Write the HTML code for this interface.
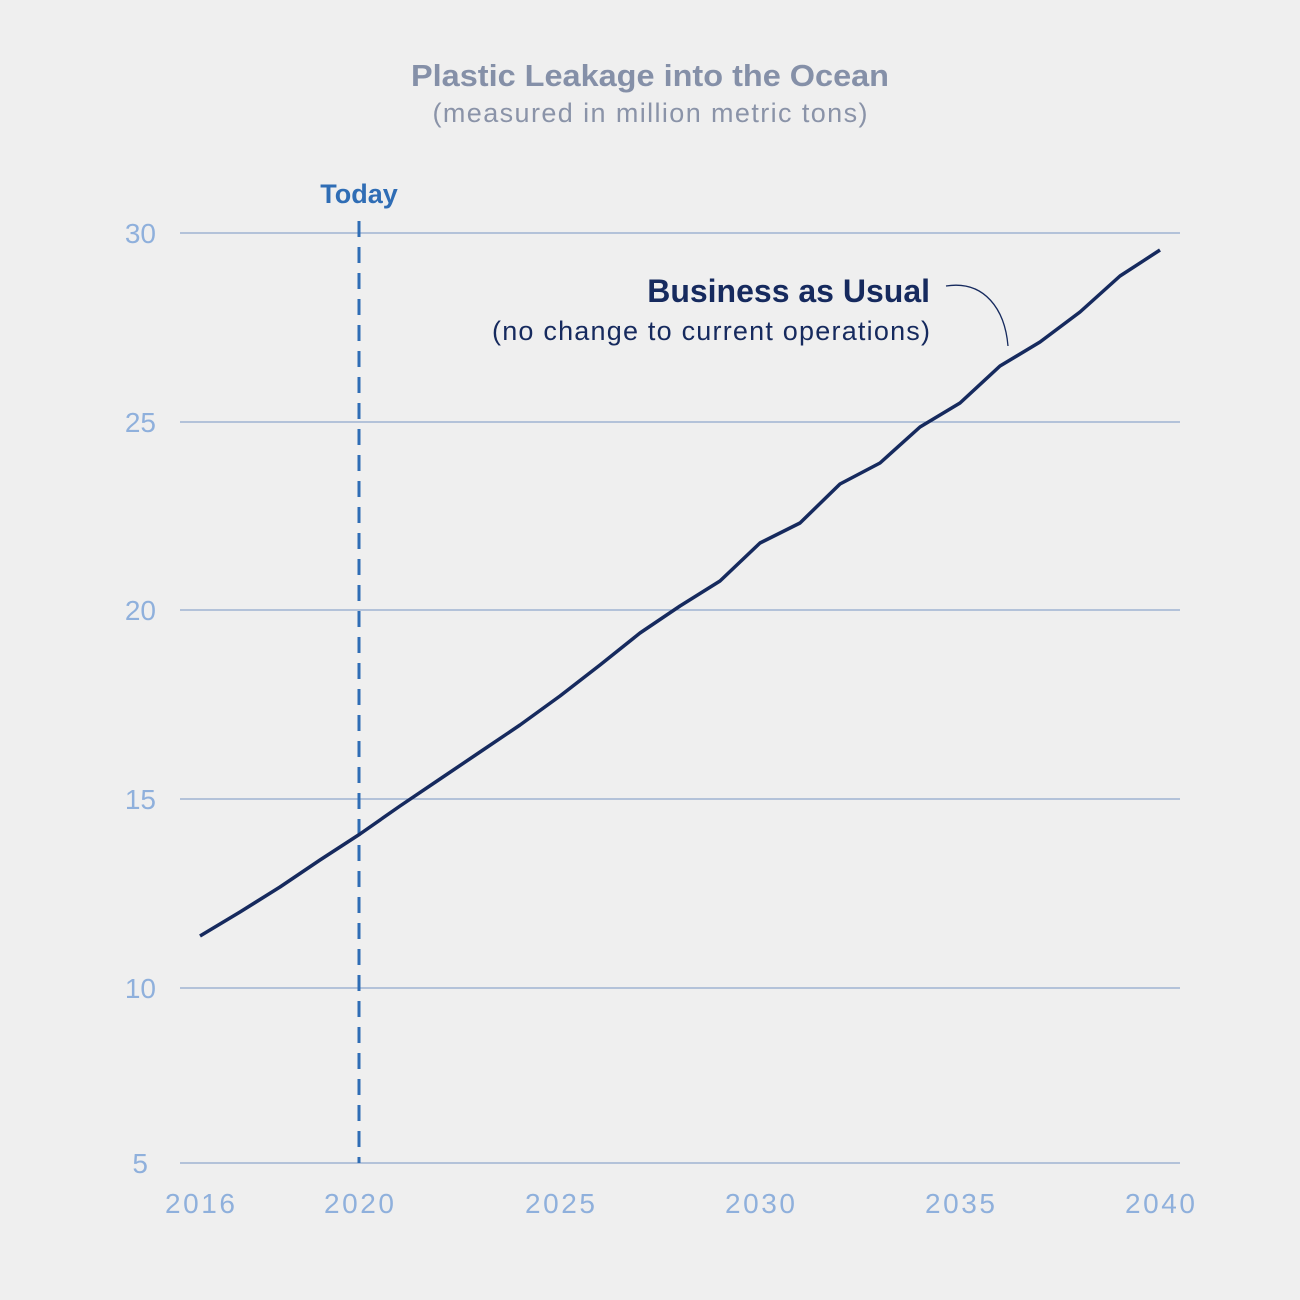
<!DOCTYPE html>
<html><head><meta charset="utf-8"><style>
body{margin:0;background:#efefef;}
svg{display:block}
</style></head><body>
<svg width="1300" height="1300" viewBox="0 0 1300 1300" xmlns="http://www.w3.org/2000/svg" font-family="'Liberation Sans', sans-serif">
<rect width="1300" height="1300" fill="#efefef"/>
<text x="650" y="86" text-anchor="middle" font-size="31" font-weight="bold" fill="#8590a8" textLength="478" lengthAdjust="spacingAndGlyphs">Plastic Leakage into the Ocean</text>
<text x="650" y="122" text-anchor="middle" font-size="27" fill="#8a93a8" textLength="435" lengthAdjust="spacing">(measured in million metric tons)</text>
<g stroke="#8fa8cc" stroke-width="1.3">
<line x1="180" y1="233" x2="1180" y2="233"/>
<line x1="180" y1="422" x2="1180" y2="422"/>
<line x1="180" y1="610" x2="1180" y2="610"/>
<line x1="180" y1="799" x2="1180" y2="799"/>
<line x1="180" y1="988" x2="1180" y2="988"/>
<line x1="180" y1="1163" x2="1180" y2="1163"/>
</g>
<g font-size="28" fill="#8fb0dc" text-anchor="end">
<text x="156" y="243">30</text>
<text x="156" y="432">25</text>
<text x="156" y="620">20</text>
<text x="156" y="809">15</text>
<text x="156" y="998">10</text>
<text x="148" y="1173">5</text>
</g>
<g font-size="28" fill="#8fb0dc" text-anchor="middle">
<text x="200" y="1213" textLength="70">2016</text>
<text x="359" y="1213" textLength="70">2020</text>
<text x="560" y="1213" textLength="70">2025</text>
<text x="760" y="1213" textLength="70">2030</text>
<text x="960" y="1213" textLength="70">2035</text>
<text x="1160" y="1213" textLength="70">2040</text>
</g>
<line x1="359" y1="221" x2="359" y2="1163" stroke="#2f6db5" stroke-width="3" stroke-dasharray="16,10"/>
<text x="359" y="203" text-anchor="middle" font-size="27" font-weight="bold" fill="#2f6db5">Today</text>
<polyline fill="none" stroke="#162a5e" stroke-width="3.5" stroke-linejoin="round" points="200,936 240,912 280,887 320,860 360,834 400,806 440,779 480,752 520,725 560,696 600,665 640,633 680,606 720,581 760,543 800,523 840,484 880,463 920,427 960,403 1000,366 1040,342 1080,312 1120,276 1160,250"/>
<text x="930" y="302" text-anchor="end" font-size="32" font-weight="bold" fill="#162a5e">Business as Usual</text>
<text x="930" y="340" text-anchor="end" font-size="27" fill="#162a5e" textLength="438" lengthAdjust="spacing">(no change to current operations)</text>
<path d="M946,286 C985,280 1005,310 1008,346" fill="none" stroke="#162a5e" stroke-width="1.3"/>
</svg>
</body></html>
